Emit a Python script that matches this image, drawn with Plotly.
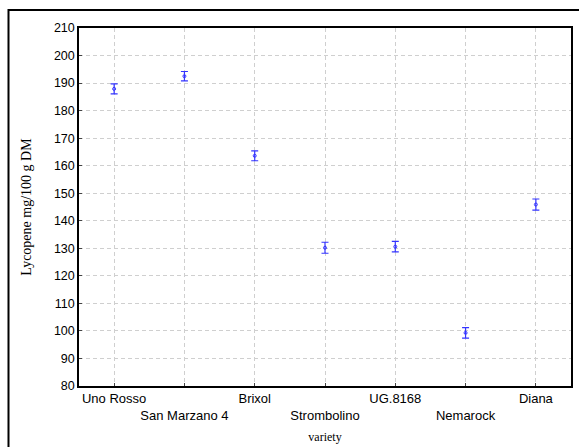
import plotly.graph_objects as go

varieties = ["Uno Rosso", "San Marzano 4", "Brixol", "Strombolino", "UG.8168", "Nemarock", "Diana"]
means = [187.9, 192.5, 163.6, 130.2, 130.6, 99.3, 145.9]
errors = [1.8, 1.7, 1.8, 2.0, 1.9, 1.9, 2.0]
y_ticks = list(range(80, 211, 10))

tick_text = [v if i % 2 == 0 else "<br>" + v for i, v in enumerate(varieties)]

blue = "#3434ff"
fig = go.Figure()
fig.add_trace(go.Scatter(
    x=varieties, y=means, mode="markers",
    marker=dict(symbol="circle-open", size=3, color=blue, line=dict(width=1, color=blue)),
    error_y=dict(type="data", array=errors, visible=True, color=blue, thickness=1.2, width=3.5),
    showlegend=False,
))

grid = dict(showgrid=True, gridcolor="#cfcfcf", griddash="4px,3px", gridwidth=1)
fig.update_xaxes(
    type="category", categoryarray=varieties, range=[-0.5, 6.5],
    tickvals=varieties, ticktext=tick_text, tickangle=0, automargin=False,
    showline=True, linecolor="black", linewidth=1.5, mirror=True,
    ticks="inside", ticklen=3, tickcolor="#444",
    tickfont=dict(family="Liberation Sans, Arial", size=13, color="black"),
    title=dict(text="variety", font=dict(family="Liberation Serif, Times New Roman", size=12, color="black"), standoff=10),
    zeroline=False, **grid,
)
fig.update_yaxes(
    range=[80, 210], tickvals=y_ticks, automargin=False,
    showline=True, linecolor="black", linewidth=1.5, mirror=True,
    ticks="inside", ticklen=3, tickcolor="#444",
    tickfont=dict(family="Liberation Sans, Arial", size=12.5, color="black"),
    title=dict(text="Lycopene mg/100 g DM", font=dict(family="Liberation Serif, Times New Roman", size=14, color="black"), standoff=19),
    zeroline=False, **grid,
)
fig.add_shape(type="rect", xref="paper", yref="paper",
              x0=-0.1433, x1=1.03, y0=-0.2, y1=1.0503,
              line=dict(color="black", width=2), fillcolor="rgba(0,0,0,0)", layer="above")
fig.update_layout(
    width=579, height=447,
    margin=dict(l=79, r=8, t=28, b=61),
    plot_bgcolor="white", paper_bgcolor="white",
)
fig.write_html("out.html", config={"displayModeBar": False},
               post_script="document.body.style.margin='0';document.body.style.overflow='hidden';")
